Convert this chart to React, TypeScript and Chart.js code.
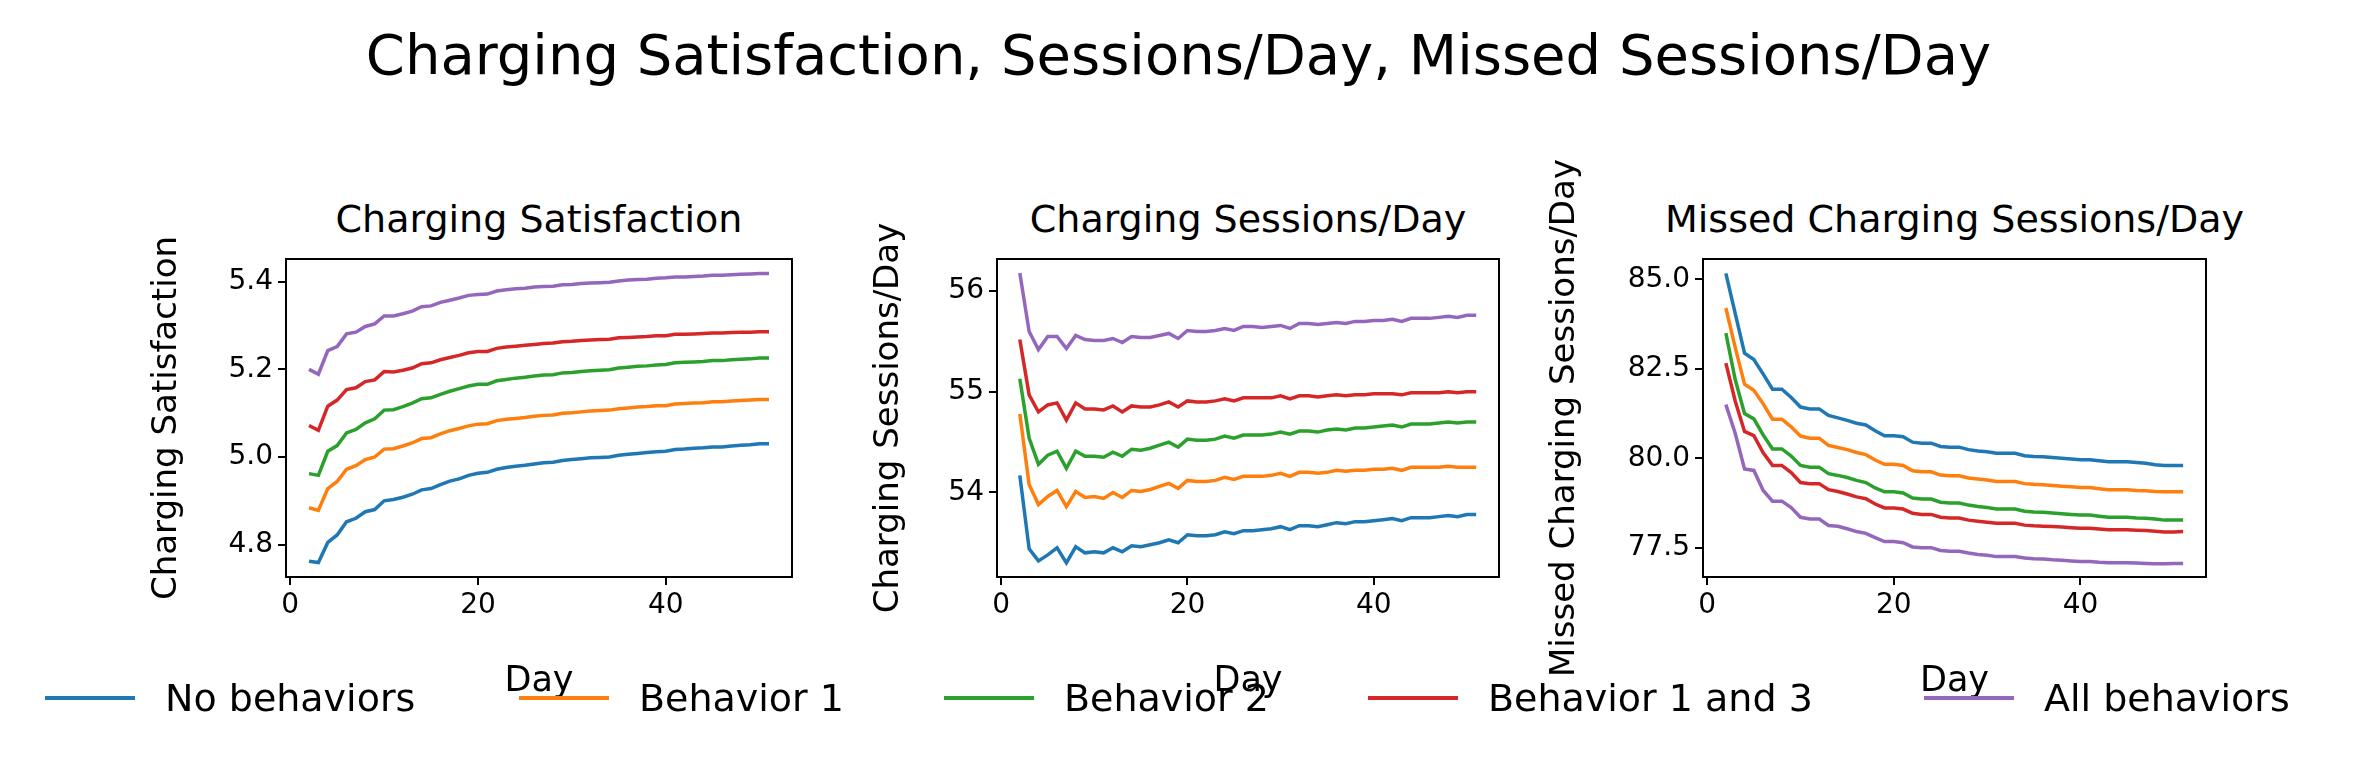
import { useEffect, useRef } from "react"
import { Chart, registerables } from "chart.js"

Chart.register(...registerables)

const days = Array.from({ length: 50 }, (_, i) => i + 2)
const seriesNames = ["No behaviors", "Behavior 1", "Behavior 2", "Behavior 1 and 3", "All behaviors"]
const colors = ["#1f77b4", "#ff7f0e", "#2ca02c", "#d62728", "#9467bd"]

// Charging satisfaction
const satNone = [4.762,4.759,4.805,4.822,4.852,4.860,4.875,4.880,4.900,4.903,4.908,4.915,4.925,4.928,4.937,4.945,4.950,4.958,4.963,4.965,4.972,4.976,4.979,4.981,4.984,4.987,4.988,4.992,4.994,4.996,4.998,4.999,5.000,5.004,5.006,5.008,5.010,5.012,5.013,5.017,5.018,5.020,5.021,5.023,5.023,5.025,5.027,5.028,5.030,5.030]
const satB1 = [4.884,4.878,4.928,4.944,4.972,4.980,4.994,5.000,5.018,5.019,5.025,5.032,5.042,5.044,5.053,5.060,5.065,5.071,5.075,5.076,5.083,5.086,5.088,5.090,5.093,5.095,5.096,5.100,5.101,5.103,5.105,5.106,5.107,5.110,5.112,5.114,5.115,5.117,5.117,5.121,5.122,5.123,5.124,5.126,5.126,5.128,5.129,5.130,5.131,5.131]
const satB2 = [4.962,4.958,5.013,5.026,5.055,5.063,5.078,5.087,5.107,5.108,5.115,5.123,5.133,5.135,5.143,5.150,5.156,5.162,5.166,5.166,5.174,5.177,5.180,5.182,5.185,5.187,5.188,5.192,5.193,5.195,5.197,5.198,5.199,5.203,5.205,5.207,5.208,5.210,5.211,5.215,5.216,5.217,5.218,5.220,5.220,5.222,5.223,5.224,5.226,5.226]
const satB13 = [5.072,5.061,5.116,5.130,5.154,5.158,5.172,5.176,5.195,5.194,5.198,5.203,5.213,5.215,5.222,5.227,5.232,5.238,5.241,5.241,5.248,5.251,5.253,5.255,5.257,5.259,5.260,5.263,5.264,5.266,5.267,5.268,5.269,5.272,5.273,5.274,5.275,5.277,5.277,5.280,5.280,5.281,5.282,5.283,5.283,5.284,5.285,5.285,5.286,5.286]
const satAll = [5.200,5.189,5.243,5.252,5.281,5.285,5.298,5.304,5.322,5.322,5.327,5.333,5.343,5.345,5.353,5.358,5.363,5.369,5.371,5.372,5.379,5.382,5.384,5.385,5.388,5.389,5.390,5.393,5.394,5.396,5.397,5.398,5.399,5.402,5.404,5.405,5.406,5.408,5.409,5.411,5.411,5.412,5.413,5.415,5.415,5.416,5.417,5.418,5.419,5.419]

// Charging sessions / day
const sesNone = [54.17,53.44,53.32,53.38,53.45,53.30,53.46,53.40,53.41,53.40,53.45,53.41,53.47,53.46,53.48,53.50,53.53,53.50,53.58,53.57,53.57,53.58,53.61,53.59,53.62,53.62,53.63,53.64,53.66,53.63,53.67,53.67,53.66,53.68,53.70,53.69,53.71,53.71,53.72,53.73,53.74,53.72,53.75,53.75,53.75,53.76,53.77,53.76,53.78,53.78]
const sesB1 = [54.78,54.08,53.88,53.96,54.02,53.86,54.01,53.95,53.96,53.94,54.00,53.95,54.02,54.01,54.03,54.06,54.09,54.04,54.12,54.11,54.11,54.12,54.15,54.13,54.16,54.16,54.16,54.17,54.19,54.16,54.20,54.20,54.19,54.20,54.22,54.21,54.22,54.22,54.23,54.23,54.24,54.22,54.25,54.25,54.25,54.25,54.26,54.25,54.25,54.25]
const sesB2 = [55.13,54.54,54.28,54.37,54.41,54.24,54.41,54.36,54.36,54.35,54.40,54.36,54.43,54.42,54.44,54.47,54.50,54.45,54.53,54.52,54.52,54.53,54.56,54.54,54.57,54.57,54.57,54.58,54.60,54.58,54.61,54.61,54.60,54.62,54.63,54.62,54.64,54.64,54.65,54.66,54.67,54.65,54.68,54.68,54.68,54.69,54.70,54.69,54.70,54.70]
const sesB13 = [55.52,54.97,54.80,54.87,54.89,54.72,54.89,54.83,54.83,54.82,54.86,54.80,54.86,54.85,54.85,54.87,54.90,54.85,54.91,54.90,54.90,54.91,54.93,54.91,54.94,54.94,54.94,54.94,54.96,54.93,54.96,54.96,54.95,54.96,54.97,54.96,54.97,54.97,54.98,54.98,54.98,54.97,54.99,54.99,54.99,54.99,55.00,54.99,55.00,55.00]
const sesAll = [56.18,55.60,55.42,55.55,55.55,55.43,55.56,55.52,55.51,55.51,55.53,55.49,55.55,55.54,55.54,55.56,55.58,55.53,55.61,55.60,55.60,55.61,55.63,55.61,55.65,55.65,55.64,55.65,55.66,55.63,55.68,55.68,55.67,55.68,55.69,55.68,55.70,55.70,55.71,55.71,55.72,55.70,55.73,55.73,55.73,55.74,55.75,55.74,55.76,55.76]

// Missed charging sessions / day
const misNone = [85.17,84.05,82.94,82.76,82.35,81.93,81.93,81.70,81.43,81.38,81.38,81.20,81.13,81.06,80.98,80.93,80.77,80.63,80.63,80.60,80.45,80.42,80.42,80.33,80.31,80.31,80.24,80.20,80.18,80.14,80.14,80.14,80.07,80.05,80.04,80.02,80.00,79.98,79.96,79.96,79.93,79.90,79.90,79.90,79.88,79.86,79.82,79.80,79.80,79.80]
const misB1 = [84.20,83.10,82.07,81.90,81.52,81.09,81.09,80.88,80.62,80.56,80.56,80.36,80.30,80.24,80.16,80.10,79.95,79.83,79.83,79.80,79.65,79.62,79.62,79.53,79.51,79.51,79.45,79.42,79.39,79.35,79.35,79.35,79.29,79.27,79.26,79.24,79.22,79.20,79.18,79.18,79.15,79.12,79.12,79.12,79.10,79.09,79.07,79.06,79.06,79.06]
const misB2 = [83.50,82.20,81.25,81.10,80.65,80.26,80.26,80.06,79.80,79.75,79.75,79.57,79.52,79.46,79.38,79.32,79.17,79.06,79.06,79.03,78.89,78.86,78.86,78.77,78.75,78.75,78.69,78.65,78.62,78.58,78.58,78.58,78.52,78.50,78.49,78.47,78.45,78.43,78.41,78.41,78.38,78.35,78.35,78.35,78.33,78.32,78.30,78.27,78.27,78.27]
const misB13 = [82.66,81.60,80.75,80.63,80.15,79.80,79.80,79.60,79.32,79.29,79.29,79.12,79.07,79.00,78.92,78.87,78.72,78.61,78.61,78.58,78.46,78.43,78.43,78.35,78.33,78.33,78.27,78.24,78.21,78.18,78.18,78.18,78.13,78.11,78.10,78.09,78.08,78.06,78.04,78.04,78.02,78.00,78.00,78.00,77.99,77.98,77.96,77.94,77.94,77.95]
const misAll = [81.50,80.70,79.70,79.66,79.10,78.80,78.80,78.62,78.35,78.30,78.30,78.12,78.10,78.03,77.95,77.90,77.78,77.67,77.67,77.64,77.52,77.50,77.50,77.42,77.40,77.40,77.35,77.31,77.29,77.25,77.25,77.25,77.21,77.19,77.18,77.16,77.15,77.13,77.11,77.11,77.09,77.08,77.08,77.08,77.07,77.06,77.05,77.05,77.06,77.06]

const xTicks = [0, 20, 40]

interface Panel {
  title: string
  yLabel: string
  series: number[][]
  yMin: number
  yMax: number
  yTicks: number[]
  decimals: number
  left: number
  right: number
  yAxisWidth: number
}

const TOP = 259
const BOTTOM = 577
const CANVAS_TOP = 80
const X_AXIS_H = 130

const panels: Panel[] = [
  { title: "Charging Satisfaction", yLabel: "Charging Satisfaction", series: [satNone, satB1, satB2, satB13, satAll], yMin: 4.726, yMax: 5.452, yTicks: [4.8, 5.0, 5.2, 5.4], decimals: 1, left: 286, right: 792, yAxisWidth: 139 },
  { title: "Charging Sessions/Day", yLabel: "Charging Sessions/Day", series: [sesNone, sesB1, sesB2, sesB13, sesAll], yMin: 53.16, yMax: 56.32, yTicks: [54, 55, 56], decimals: 0, left: 997, right: 1499, yAxisWidth: 128 },
  { title: "Missed Charging Sessions/Day", yLabel: "Missed Charging Sessions/Day", series: [misNone, misB1, misB2, misB13, misAll], yMin: 76.68, yMax: 85.57, yTicks: [77.5, 80.0, 82.5, 85.0], decimals: 1, left: 1703, right: 2206, yAxisWidth: 158 },
]

const FONT = "DejaVu Sans"

const frame = {
  id: "frame",
  afterDraw(chart: any) {
    const { ctx, chartArea: a } = chart
    ctx.save()
    ctx.strokeStyle = "#000"
    ctx.lineWidth = 2
    ctx.strokeRect(a.left, a.top, a.right - a.left, a.bottom - a.top)
    ctx.restore()
  },
}

function PanelChart({ p }: { p: Panel }) {
  const ref = useRef<HTMLCanvasElement>(null)
  const width = p.right - p.left + p.yAxisWidth + 12
  const height = BOTTOM - CANVAS_TOP + X_AXIS_H

  useEffect(() => {
    if (!ref.current) return
    const chart = new Chart(ref.current, {
      type: "line",
      data: {
        labels: days,
        datasets: p.series.map((s, i) => ({
          label: seriesNames[i],
          data: s.map((v, j) => ({ x: days[j], y: v })),
          borderColor: colors[i],
          borderWidth: 3.5,
          pointRadius: 0,
          tension: 0,
        })),
      },
      options: {
        animation: false,
        responsive: false,
        layout: { padding: { top: TOP - CANVAS_TOP, right: 12, left: 0, bottom: 0 } },
        plugins: { legend: { display: false }, tooltip: { enabled: false } },
        scales: {
          x: {
            type: "linear",
            min: -0.45,
            max: 53.45,
            afterBuildTicks: (s: any) => { s.ticks = xTicks.map((v) => ({ value: v })) },
            afterFit: (s: any) => { s.height = X_AXIS_H },
            grid: { display: true, drawOnChartArea: false, drawTicks: true, tickLength: 8, color: "#000", lineWidth: 2 },
            border: { display: false },
            ticks: { color: "#000", font: { family: FONT, size: 28 }, padding: 4, maxRotation: 0 },
            title: { display: true, text: "Day", color: "#000", font: { family: FONT, size: 35 }, padding: { top: 24 } },
          },
          y: {
            min: p.yMin,
            max: p.yMax,
            afterBuildTicks: (s: any) => { s.ticks = p.yTicks.map((v) => ({ value: v })) },
            afterFit: (s: any) => { s.width = p.yAxisWidth },
            grid: { display: true, drawOnChartArea: false, drawTicks: true, tickLength: 8, color: "#000", lineWidth: 2 },
            border: { display: false },
            ticks: { color: "#000", font: { family: FONT, size: 28 }, padding: 5, callback: (v: any) => Number(v).toFixed(p.decimals) },
            title: { display: true, text: p.yLabel, color: "#000", font: { family: FONT, size: 34 }, padding: 0 },
          },
        },
      },
      plugins: [frame],
    } as any)
    return () => chart.destroy()
  }, [])

  return (
    <>
      <div style={{ position: "absolute", left: p.left - 40, width: p.right - p.left + 80, top: 197, textAlign: "center", fontFamily: FONT, fontSize: 38, color: "#000", whiteSpace: "nowrap" }}>
        {p.title}
      </div>
      <canvas ref={ref} width={width} height={height}
        style={{ position: "absolute", left: p.left - p.yAxisWidth, top: CANVAS_TOP, width, height }} />
    </>
  )
}

const legendX = [45, 519, 944, 1368, 1924]

export default function App() {
  return (
    <div style={{ position: "relative", width: 2357, height: 766, background: "#fff", margin: -8, overflow: "hidden" }}>
      <div style={{ position: "absolute", left: 0, width: 2357, top: 22, textAlign: "center", fontFamily: FONT, fontSize: 56, color: "#000" }}>
        Charging Satisfaction, Sessions/Day, Missed Sessions/Day
      </div>
      {panels.map((p) => <PanelChart key={p.title} p={p} />)}
      {seriesNames.map((n, i) => (
        <div key={n} style={{ position: "absolute", left: legendX[i], top: 676, display: "flex", alignItems: "center", fontFamily: FONT, fontSize: 38, color: "#000", whiteSpace: "nowrap" }}>
          <div style={{ width: 90, height: 4, background: colors[i], marginRight: 30 }} />
          {n}
        </div>
      ))}
    </div>
  )
}
